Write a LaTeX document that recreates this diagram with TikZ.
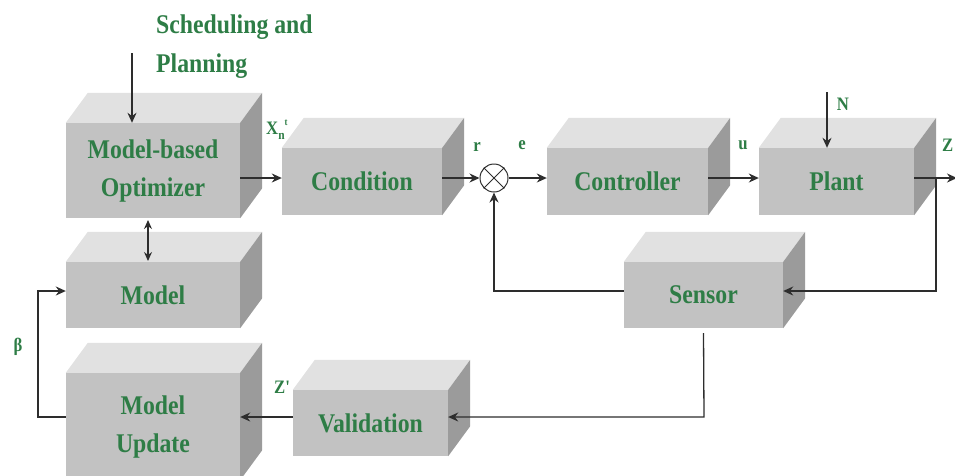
\documentclass[tikz,border=0pt]{standalone}
\usepackage{fontspec}
\usetikzlibrary{arrows.meta,calc}
\newfontfamily\lab[FakeStretch=0.88]{Liberation Serif}
\definecolor{txtgreen}{RGB}{46,125,70}
\definecolor{facefront}{RGB}{194,194,194}
\definecolor{facetop}{RGB}{225,225,225}
\definecolor{faceside}{RGB}{155,155,155}
\definecolor{linecol}{RGB}{45,45,45}
\tikzset{
  front/.style={fill=facefront, draw=none, inner sep=0pt, text=txtgreen,
     font=\lab\bfseries\fontsize{27}{38}\selectfont, align=center},
  toplab/.style={text=txtgreen, font=\lab\bfseries\fontsize{27}{39}\selectfont, inner sep=0pt},
  small/.style={text=txtgreen, font=\lab\bfseries\fontsize{19}{19}\selectfont, inner sep=0pt},
  conn/.style={draw=linecol, line width=1.3pt},
  arr/.style={conn, -{Stealth[length=10pt,width=9pt]}},
}
\newcommand\cubeface[1]{%
  \fill[facetop] (#1.north west) -- ++(22,-30) -- ($(#1.north east)+(22,-30)$) -- (#1.north east) -- cycle;
  \fill[faceside] (#1.north east) -- ++(22,-30) -- ($(#1.south east)+(22,-30)$) -- (#1.south east) -- cycle;
}
\begin{document}
\begin{tikzpicture}[x=1pt,y=-1pt]
\useasboundingbox (0,0) rectangle (955,475);
% boxes
\node[front, minimum width=174pt, minimum height=95pt] (opt) at (153,170.5) {Model-based\\Optimizer};
\node[front, minimum width=174pt, minimum height=66pt] (model) at (153,295) {Model};
\node[front, minimum width=174pt, minimum height=107pt] (upd) at (153,426.5) {Model\\Update};
\node[front, minimum width=160pt, minimum height=67pt] (cond) at (362,181.5) {Condition};
\node[front, minimum width=161pt, minimum height=67pt] (ctrl) at (627.5,181.5) {Controller};
\node[front, minimum width=155pt, minimum height=67pt] (plant) at (836.5,181.5) {Plant};
\node[front, minimum width=159pt, minimum height=66pt] (sensor) at (703.5,295) {Sensor};
\node[front, minimum width=155pt, minimum height=66pt] (valid) at (370.5,423) {Validation};
\cubeface{opt}
\cubeface{model}
\cubeface{upd}
\cubeface{cond}
\cubeface{ctrl}
\cubeface{plant}
\cubeface{sensor}
\cubeface{valid}
% summing junction
\node[circle, draw=linecol, line width=1pt, minimum size=28pt, inner sep=0pt] (sum) at (494,178) {};
\draw[linecol, line width=0.8pt] (sum.north west) -- (sum.south east) (sum.north east) -- (sum.south west);
% labels
\node[toplab, anchor=north west, align=left] (sched) at (156,15) {Scheduling and\\Planning};
\node[small, anchor=west] (xn) at (266,130) {X\raisebox{-5pt}{\fontsize{13}{13}\selectfont n}\raisebox{9pt}{\fontsize{10}{10}\selectfont t}};
\node[small] (lr) at (477,147) {r};
\node[small] (le) at (522,145) {e};
\node[small] (lu) at (743,145) {u};
\node[small] (lN) at (843,104) {N};
\node[small, anchor=west] (lZ) at (942,145) {Z};
\node[small] (lZp) at (282,387) {Z'};
\node[small] (lb) at (18,347) {β};
% coordinates
\coordinate (s0) at (132,53);
\coordinate (n0) at (827,92);
\coordinate (zout) at (957,178);
\coordinate (fb) at (936,291);
\coordinate (fbl) at (494,291);
\coordinate (sv) at (704,417);
\coordinate (lb0) at (38,417);
\coordinate (lb1) at (38,291);
\coordinate (oa) at (148,220);
\coordinate (ob) at (148,261);
% connectors
\draw[arr] (s0) -- (s0 |- opt.north);
\draw[arr] (n0) -- (n0 |- plant.north);
\draw[arr] (opt.east |- sum) -- (cond.west |- sum);
\draw[arr] (cond.east |- sum) -- (sum.west);
\draw[arr] (sum.east) -- (ctrl.west |- sum);
\draw[arr] (ctrl.east |- sum) -- (plant.west |- sum);
\draw[arr] (plant.east |- sum) -- (zout);
\draw[arr] (fb |- sum) -- (fb) -- (sensor.east |- fb);
\draw[arr] (sensor.west |- fb) -- (fbl) -- (sum.south);
\draw[arr] ([yshift=-5pt]sensor.south) -- (sv) -- (valid.east |- sv);
\draw[arr] (valid.west |- sv) -- (upd.east |- sv);
\draw[arr] (upd.west |- sv) -- (lb0) -- (lb1) -- (model.west |- lb1);
\draw[conn, {Stealth[length=9pt,width=8pt]}-{Stealth[length=9pt,width=8pt]}] (oa) -- (ob);
\end{tikzpicture}
\end{document}
